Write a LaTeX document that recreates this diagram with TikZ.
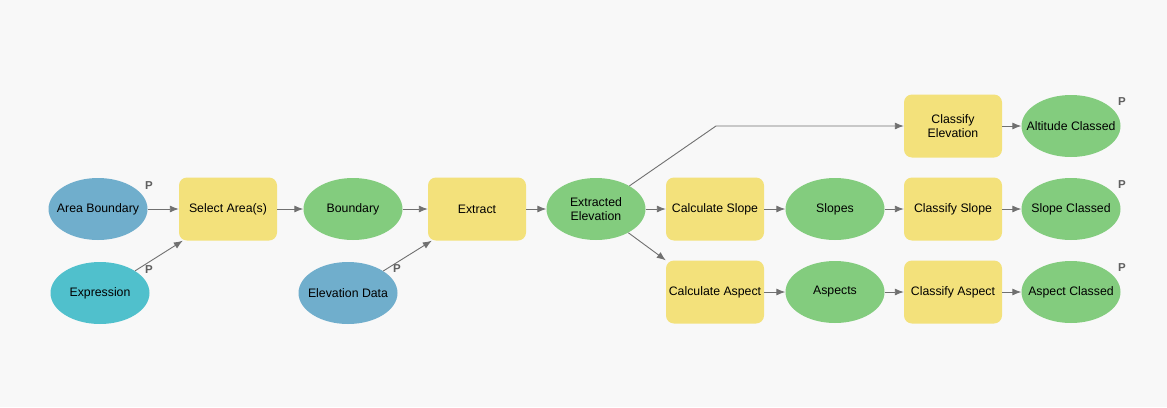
\documentclass[tikz,border=0pt]{standalone}
\usepackage{fontspec}
\setmainfont{Liberation Sans}
\usetikzlibrary{shapes.geometric,arrows.meta}
\definecolor{bgGray}{HTML}{F8F8F8}
\definecolor{dataBlue}{HTML}{70AECC}
\definecolor{exprCyan}{HTML}{50C0CC}
\definecolor{outGreen}{HTML}{83CC7E}
\definecolor{toolYellow}{HTML}{F3E17B}
\definecolor{lineGray}{HTML}{707070}
\definecolor{pGray}{HTML}{606060}
\newcommand\flatlbl[1]{\makebox[0pt]{#1}}
\tikzset{
	tool/.style={rectangle, rounded corners=8pt, fill=toolYellow, minimum width=98pt, minimum height=63pt, inner sep=0pt, align=center},
	var/.style={ellipse, fill=#1, minimum width=99pt, minimum height=62pt, inner sep=0pt, align=center},
	flow/.style={draw=lineGray, line width=0.9pt, -{Latex[length=9pt,width=7pt]}},
	plabel/.style={font=\bfseries\fontsize{11.5}{12}\selectfont, text=pGray, inner sep=0pt}
}

\begin{document}
\begin{tikzpicture}[x=1pt,y=-1pt,font=\fontsize{12.3}{14.5}\selectfont]

	\fill[bgGray] (0,0) rectangle (1167,407);

	% inputs
	\node[var=dataBlue] (areab) at (98,209) {\flatlbl{Area Boundary}};
	\node[var=exprCyan] (expr) at (100,293) {\flatlbl{Expression}};
	\node[tool] (select) at (228,209) {Select Area(s)};
	\node[var=outGreen] (bound) at (353,209) {\flatlbl{Boundary}};
	\node[var=dataBlue] (elevdata) at (348,293) {\flatlbl{Elevation Data}};
	\node[tool] (extract) at (477,209) {Extract};
	\node[var=outGreen] (extrelev) at (596,209) {Extracted\\Elevation};

	% top row
	\coordinate (bend) at (716,126);
	\node[tool] (clselev) at (953,126) {Classify\\Elevation};
	\node[var=outGreen] (altcl) at (1071,126) {\flatlbl{Altitude Classed}};

	% middle row
	\node[tool] (calcslope) at (715,209) {Calculate Slope};
	\node[var=outGreen] (slopes) at (835,209) {\flatlbl{Slopes}};
	\node[tool] (clsslope) at (953,209) {Classify Slope};
	\node[var=outGreen] (slopecl) at (1071,209) {\flatlbl{Slope Classed}};

	% bottom row
	\node[tool] (calcasp) at (715,292) {Calculate Aspect};
	\node[var=outGreen] (aspects) at (835,292) {\flatlbl{Aspects}};
	\node[tool] (clsasp) at (953,292) {Classify Aspect};
	\node[var=outGreen] (aspcl) at (1071,292) {\flatlbl{Aspect Classed}};

	% parameter marks
	\foreach \nm/\x/\y in {pareab/149/186, pexpr/149/270, pelev/397/269, palt/1122/102, pslope/1122/185, pasp/1122/268}
		\node[plabel] (\nm) at (\x,\y) {P};

	% connectors
	\draw[flow] (areab) -- (select);
	\draw[flow] (expr) -- ([xshift=4pt]select.south west);
	\draw[flow] (select) -- (bound);
	\draw[flow] (bound) -- (extract);
	\draw[flow] (elevdata) -- ([xshift=4pt]extract.south west);
	\draw[flow] (extract) -- (extrelev);
	\draw[flow] (extrelev) -- (bend) -- (clselev);
	\draw[flow] (clselev) -- (altcl);
	\draw[flow] (extrelev) -- (calcslope);
	\draw[flow] (calcslope) -- (slopes);
	\draw[flow] (slopes) -- (clsslope);
	\draw[flow] (clsslope) -- (slopecl);
	\draw[flow] (extrelev) -- (calcasp.north west);
	\draw[flow] (calcasp) -- (aspects);
	\draw[flow] (aspects) -- (clsasp);
	\draw[flow] (clsasp) -- (aspcl);

\end{tikzpicture}
\end{document}
